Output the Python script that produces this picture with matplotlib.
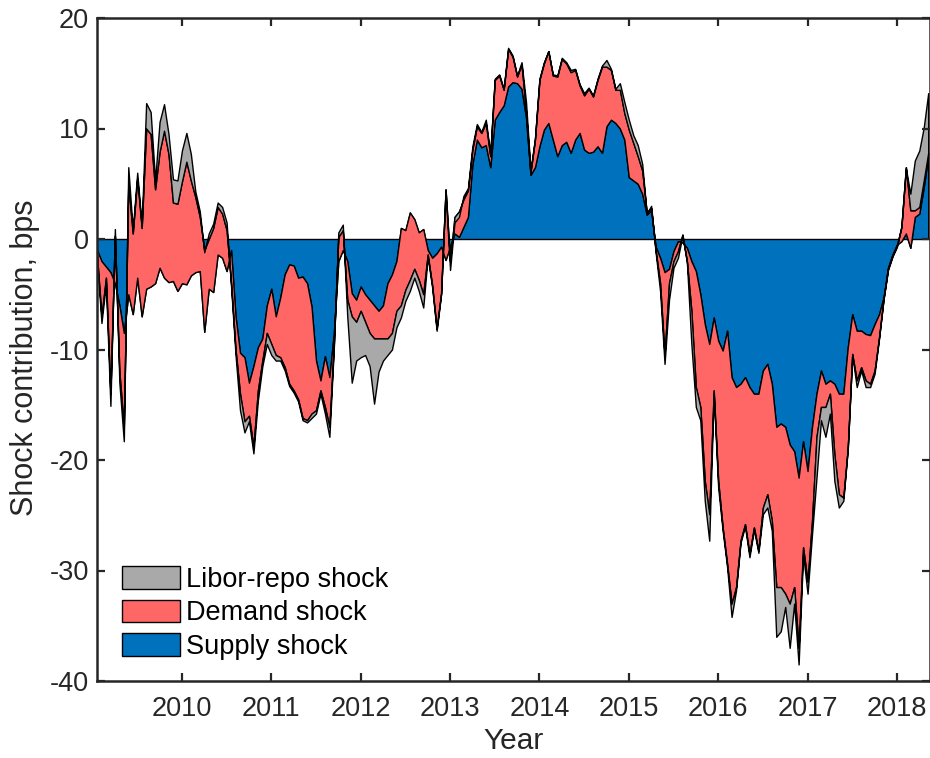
import numpy as np
import matplotlib.pyplot as plt

# Shock contributions in bps, one value every 0.05 years starting 2009.05
supply = [
    -1.0, -2.0, -2.5, -3.0, -4.0, -6.0, -8.5, -5.0, -6.8, -3.5,
    -7.0, -4.5, -4.3, -4.0, -2.6, -3.5, -3.9, -3.8, -4.7, -4.0,
    -4.1, -3.3, -3.0, -2.9, -8.4, -4.5, -4.8, -1.4, -1.7, -2.9,
    -1.0, -7.0, -10.3, -10.7, -13.0, -11.5, -9.8, -9.0, -6.0, -4.5,
    -7.0, -5.3, -3.2, -2.3, -2.4, -3.5, -3.4, -4.0, -6.1, -11.0,
    -12.8, -10.6, -12.5, -8.5, -2.0, -1.0, -2.0, -4.9, -5.5, -4.3,
    -5.0, -5.5, -6.0, -6.5, -6.0, -4.0, -3.2, -2.0, 1.0, 0.8,
    2.4, 1.8, 0.6, 0.9, -1.0, -1.7, -1.3, -0.7, -1.9, -0.7,
    0.5, 0.2, 1.1, 2.0, 6.8, 9.0, 8.3, 8.5, 6.5, 10.8,
    11.5, 12.1, 13.8, 14.2, 14.1, 13.6, 11.0, 5.8, 6.5, 8.4,
    9.9, 10.5, 9.0, 7.5, 8.5, 8.8, 7.8, 9.0, 9.6, 8.1,
    7.8, 7.9, 8.4, 7.8, 10.2, 10.8, 10.5, 10.0, 9.0, 5.6,
    5.3, 5.0, 4.1, 2.2, 2.6, -0.7, -1.7, -3.0, -2.7, -1.1,
    -0.2, -0.3, -0.8, -2.0, -2.9, -5.0, -7.7, -9.5, -7.1, -9.2,
    -10.1, -8.3, -12.5, -13.4, -13.1, -12.5, -13.4, -14.0, -14.0, -11.9,
    -11.3, -13.1, -17.0, -16.7, -17.0, -18.6, -19.2, -21.6, -18.3, -21.0,
    -17.0, -14.0, -11.9, -13.1, -12.8, -13.1, -14.0, -14.0, -9.8, -6.8,
    -8.3, -8.3, -8.6, -8.7, -7.7, -6.8, -5.3, -2.6, -1.4, -0.5,
    -0.2, 0.5, -0.8, 2.0, 2.3, 4.7, 7.5,
]
demand = [
    -0.5, -5.0, -1.0, -11.0, 4.3, -6.0, -8.5, 10.0, 7.3, 9.0,
    8.0, 14.5, 13.8, 8.5, 10.5, 13.3, 11.6, 7.1, 7.9, 9.2,
    11.1, 8.6, 6.8, 4.9, 7.4, 4.5, 5.8, 4.3, 4.0, 3.7,
    -3.0, -3.0, -3.7, -5.8, -3.0, -7.3, -3.9, -2.0, -2.5, -5.0,
    -3.5, -5.4, -8.4, -10.8, -11.3, -11.0, -12.8, -12.4, -9.7, -4.5,
    -0.9, -4.6, -4.5, -1.0, 2.2, 1.8, -3.5, -2.1, -2.0, -2.2,
    -2.5, -3.0, -3.0, -2.5, -3.0, -5.0, -5.3, -4.5, -7.0, -5.4,
    -6.1, -4.5, -4.3, -5.9, -0.4, -2.5, -6.8, -4.2, 6.4, -1.3,
    1.5, 2.3, 2.5, 2.4, 1.3, 1.2, 1.3, 2.0, 1.0, 3.6,
    3.3, 1.4, 3.4, 2.3, 0.6, 2.2, 0.5, 0.2, 2.5, 6.0,
    6.0, 6.5, 5.8, 7.2, 7.8, 7.1, 7.3, 6.3, 4.3, 4.9,
    5.8, 5.0, 6.0, 7.8, 5.4, 4.5, 3.0, 3.5, 2.4, 4.3,
    3.4, 2.5, 2.1, 0.2, 0.2, -0.3, -2.3, -7.5, -1.3, -0.9,
    -0.9, 0.7, -1.2, -4.5, -10.5, -10.2, -14.2, -15.4, -6.6, -12.7,
    -16.0, -21.1, -20.5, -18.1, -14.2, -13.3, -15.1, -12.1, -14.2, -12.4,
    -11.8, -12.4, -14.5, -14.8, -15.1, -14.4, -12.3, -15.4, -9.6, -10.0,
    -8.5, -3.9, -3.3, -2.1, -1.2, -6.4, -9.1, -9.4, -9.1, -3.6,
    -4.5, -3.3, -4.2, -4.4, -4.2, -2.1, -0.1, -0.1, -0.1, -0.1,
    1.3, 6.0, 3.4, 0.6, 0.6, 0.6, 0.3,
]
libor = [
    -0.3, -0.6, -0.5, -1.1, 0.6, -1.0, -1.3, 1.5, 0.3, 0.5,
    0.2, 2.3, 2.0, 0.8, 2.7, 2.4, 1.8, 2.1, 2.1, 2.8,
    2.6, 2.4, 0.5, 0.5, -0.2, 0.5, 0.4, 0.4, 0.6, 0.7,
    -0.3, -0.5, -1.5, -1.0, -0.5, -0.6, -0.9, -0.5, -1.0, -1.0,
    -0.5, -0.3, -0.3, -0.2, -0.2, -0.2, -0.2, -0.2, -0.4, -0.3,
    -0.3, -0.6, -0.9, -0.3, 0.4, 0.5, -1.5, -6.0, -3.5, -4.2,
    -3.0, -3.0, -5.9, -3.0, -2.0, -1.5, -1.5, -1.5, -1.1, -1.0,
    -1.0, -0.8, -1.0, -1.2, -0.2, -0.2, -0.2, -0.1, -0.1, -0.8,
    -0.5, -0.5, 0.3, 0.2, 0.3, 0.2, 0.1, 0.3, 0.2, 0.1,
    0.1, 0.1, 0.1, 0.1, 0.1, 0.2, 0.9, 0.2, 0.1, 0.1,
    0.1, 0.0, 0.1, 0.1, 0.1, 0.1, 0.2, 0.1, 0.1, 0.2,
    0.1, 0.1, 0.1, 0.1, 0.6, 0.1, 0.1, 0.6, 1.0, 0.9,
    0.7, 1.0, 0.6, -0.1, 0.2, -0.2, -0.7, -0.8, -1.5, -0.6,
    -0.6, -0.1, -0.1, -3.0, -1.8, -1.2, -1.8, -2.4, -0.3, -0.6,
    -0.3, -0.3, -1.2, -0.3, -0.2, -0.2, -0.3, -0.2, -0.2, -0.6,
    -1.2, -0.9, -4.5, -4.0, -1.2, -4.0, -1.5, -1.5, -0.6, -1.1,
    -1.2, -3.7, -1.2, -2.7, -1.8, -2.4, -1.2, -0.3, -0.1, -0.1,
    -0.6, -0.3, -0.6, -0.3, -0.3, -0.1, -0.1, -0.1, -0.1, -0.1,
    0.0, -0.1, 1.5, 4.5, 5.1, 4.8, 5.4,
]

start_year = 2009.05
step = 0.05
years = start_year + step * np.arange(len(supply))

series_labels = ["Supply shock", "Demand shock", "Libor-repo shock"]
series_colors = ["#0072BD", "#FF6666", "#A9A9A9"]
year_ticks = list(range(2010, 2019))
value_ticks = [-40, -30, -20, -10, 0, 10, 20]

plt.rcParams["font.family"] = ["Liberation Sans", "DejaVu Sans"]
plt.rcParams["axes.unicode_minus"] = False

fig = plt.figure(figsize=(9.3, 7.58), dpi=100)
ax = fig.add_axes([97 / 930, 77 / 758, 833 / 930, 663 / 758])

# cumulative stacking, each layer drawn over the previous one
base = np.zeros(len(years))
handles = []
for vals, color, label in zip([supply, demand, libor], series_colors, series_labels):
    top = base + np.asarray(vals)
    h = ax.fill_between(years, base, top, facecolor=color, edgecolor="black",
                        linewidth=1.0, label=label)
    handles.append(h)
    base = top

ax.set_xlim(2009.05, 2018.37)
ax.set_ylim(-40, 20)
ax.set_xticks(year_ticks)
ax.set_yticks(value_ticks)

dark = "#262626"
for sp in ax.spines.values():
    sp.set_color(dark)
    sp.set_linewidth(1.8)
ax.tick_params(direction="in", top=True, right=True, length=6, width=1.6,
               colors=dark, labelsize=19.5)
ax.tick_params(axis="x", pad=11)
ax.tick_params(axis="y", pad=6)

ax.set_xlabel("Year", fontsize=21.5, color=dark)
ax.set_ylabel("Shock contribution, bps", fontsize=22, color=dark)
ax.xaxis.set_label_coords(0.5, -0.07)
ax.yaxis.set_label_coords(-0.068, 0.487)

ax.legend(handles[::-1], series_labels[::-1], loc="lower left",
          bbox_to_anchor=(0.030, 0.032), frameon=False, fontsize=19.5,
          handlelength=2.15, handleheight=0.9, handletextpad=0.2,
          labelspacing=0.25, borderpad=0, borderaxespad=0)

fig.savefig("out.png", dpi=100)
